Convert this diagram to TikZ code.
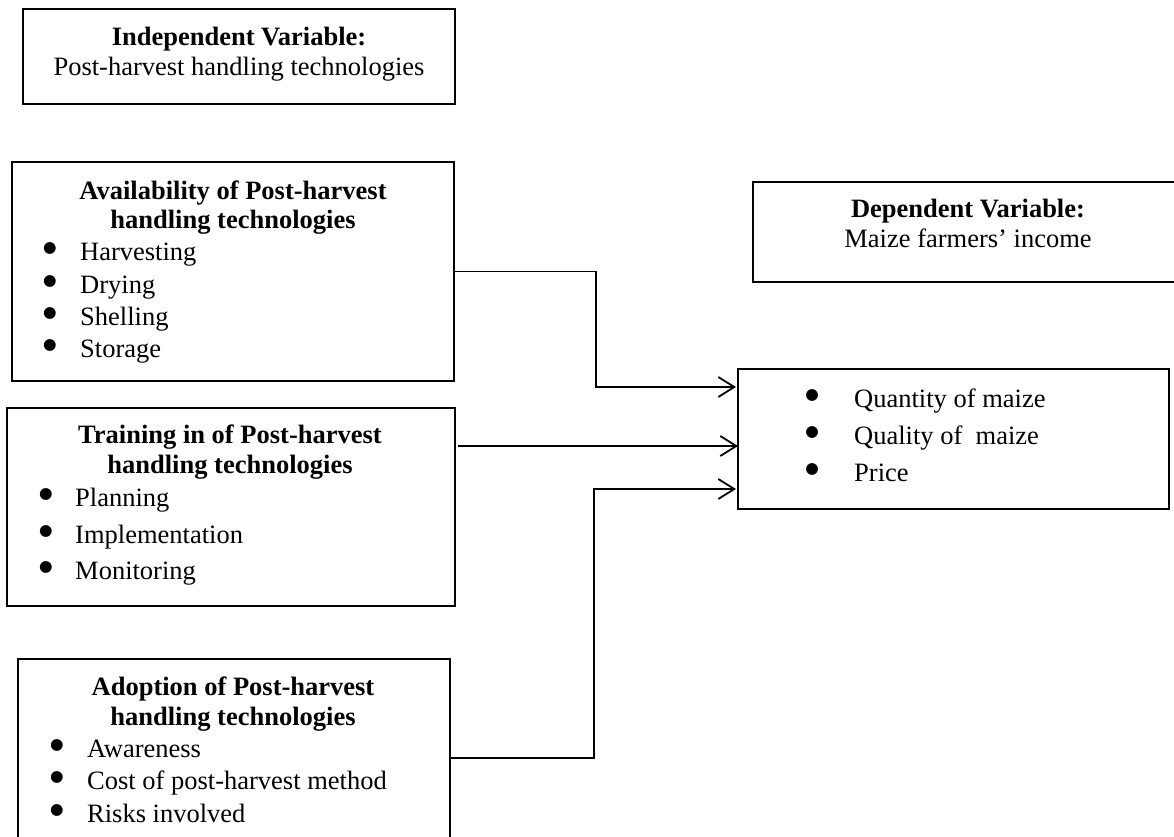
\documentclass[tikz,border=0pt]{standalone}
\usepackage{fontspec}
\setmainfont{Liberation Serif}
\newfontfamily\dvbul{DejaVu Sans}
\usetikzlibrary{arrows.meta}
\begin{document}
\begin{tikzpicture}[x=1pt,y=-1pt,
  box/.style={draw, line width=1.8pt, rectangle, inner sep=0pt, outer sep=0pt},
  txt/.style={anchor=base, inner sep=0pt, font=\fontsize{26.5}{31}\selectfont},
  bt/.style={anchor=base, inner sep=0pt, font=\fontsize{26.5}{31}\selectfont\bfseries},
  itm/.style={anchor=base west, inner sep=0pt, font=\fontsize{26.5}{31}\selectfont},
  bul/.style={anchor=base, inner sep=0pt, yshift=8pt, font=\dvbul\fontsize{15.5}{17}\selectfont},
  conn/.style={line width=1.8pt, -{Straight Barb[length=16pt,width=20pt]}}]
\useasboundingbox (0,0) rectangle (1174,836);
\clip (0,0) rectangle (1174,836);
% boxes
\node[box, minimum width=432pt, minimum height=95pt] (indep) at (239,56.5) {};
\node[box, minimum width=442pt, minimum height=219pt] (avail) at (233,271.5) {};
\node[box, minimum width=448pt, minimum height=198pt] (train) at (231,507) {};
\node[box, minimum width=432pt, minimum height=198pt] (adopt) at (234,758) {};
\node[box, minimum width=427pt, minimum height=100pt] (dep) at (966.5,232) {};
\node[box, minimum width=431pt, minimum height=140pt] (result) at (953.5,439) {};
% independent variable
\node[bt] (indepA) at (239,45) {Independent Variable:};
\node[txt] (indepB) at (239,75) {Post-harvest handling technologies};
% availability
\node[bt] (avA) at (233,199) {Availability of Post-harvest};
\node[bt] (avB) at (233,228) {handling technologies};
\node[bul] (avb1) at (50,260) {●}; \node[itm] (avi1) at (80,260) {Harvesting};
\node[bul] (avb2) at (50,293) {●}; \node[itm] (avi2) at (80,293) {Drying};
\node[bul] (avb3) at (50,325) {●}; \node[itm] (avi3) at (80,325) {Shelling};
\node[bul] (avb4) at (50,357) {●}; \node[itm] (avi4) at (80,357) {Storage};
% training
\node[bt] (trA) at (230,443) {Training in of Post-harvest};
\node[bt] (trB) at (230,473) {handling technologies};
\node[bul] (trb1) at (46,506) {●}; \node[itm] (tri1) at (75,506) {Planning};
\node[bul] (trb2) at (46,543) {●}; \node[itm] (tri2) at (75,543) {Implementation};
\node[bul] (trb3) at (46,579) {●}; \node[itm] (tri3) at (75,579) {Monitoring};
% adoption
\node[bt] (adA) at (233,695) {Adoption of Post-harvest};
\node[bt] (adB) at (233,725) {handling technologies};
\node[bul] (adb1) at (57,757) {●}; \node[itm] (adi1) at (87,757) {Awareness};
\node[bul] (adb2) at (57,789) {●}; \node[itm] (adi2) at (87,789) {Cost of post-harvest method};
\node[bul] (adb3) at (57,822) {●}; \node[itm] (adi3) at (87,822) {Risks involved};
% dependent variable
\node[bt] (depA) at (968,217) {Dependent Variable:};
\node[txt] (depB) at (968,247) {Maize farmers’ income};
% result
\node[bul] (rb1) at (812,407) {●}; \node[itm] (ri1) at (854,407) {Quantity of maize};
\node[bul] (rb2) at (812,444) {●}; \node[itm] (ri2) at (854,444) {Quality of\ \ maize};
\node[bul] (rb3) at (812,481) {●}; \node[itm] (ri3) at (854,481) {Price};
% connectors
\coordinate (j1) at (596,387);
\coordinate (j2) at (600,446);
\coordinate (j3) at (594,489);
\draw[conn, shorten >=2pt] (avail.east) -| (j1) -- (j1 -| result.west);
\draw[conn, shorten <=3pt] (train.east |- j2) -- (j2 -| result.west);
\draw[conn, shorten >=2pt] (adopt.east) -| (j3) -- (j3 -| result.west);
\end{tikzpicture}
\end{document}
